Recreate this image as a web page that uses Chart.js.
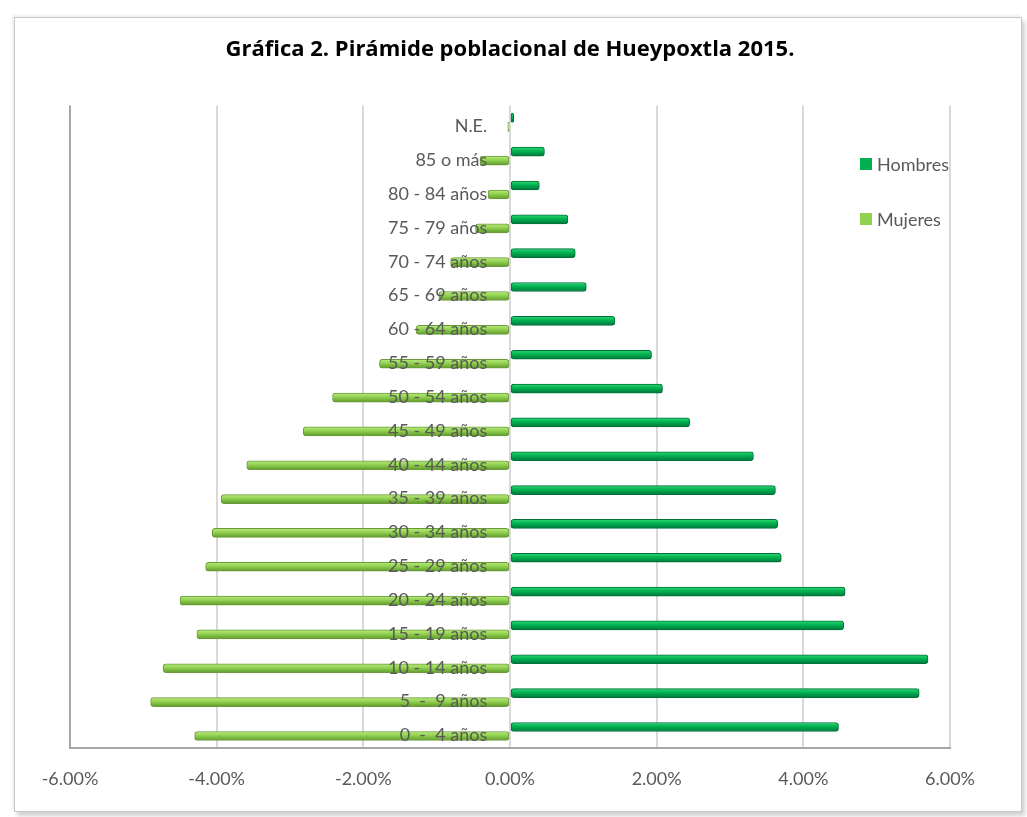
<!DOCTYPE html>
<html lang="es">
<head>
<meta charset="utf-8">
<title>Pirámide poblacional de Hueypoxtla 2015</title>
<script src="https://cdn.jsdelivr.net/npm/chart.js@4"></script>
<style>
  body { margin: 0; background: #fff; }
  #frame {
    position: absolute; left: 14px; top: 17px; width: 1006px; height: 793px;
    border: 1px solid #c8c8c8;
    box-shadow: 3px 4px 4px rgba(0,0,0,0.18), -2px -2px 2px rgba(0,0,0,0.06);
  }
  #wrap { position: absolute; left: 0; top: 0; width: 1027px; height: 817px; }
</style>
</head>
<body>
<div id="frame"></div>
<div id="wrap"><canvas id="piramide" width="1027" height="817"></canvas></div>
<script>
// grupos de edad (de abajo hacia arriba)
const grupos = [
  '0  -  4 años', '5  -  9 años', '10 - 14 años', '15 - 19 años', '20 - 24 años',
  '25 - 29 años', '30 - 34 años', '35 - 39 años', '40 - 44 años', '45 - 49 años',
  '50 - 54 años', '55 - 59 años', '60 - 64 años', '65 - 69 años', '70 - 74 años',
  '75 - 79 años', '80 - 84 años', '85 o más', 'N.E.'
];

// porcentaje de la población total
const hombres = [4.48, 5.58, 5.70, 4.55, 4.57, 3.70, 3.65, 3.62, 3.32, 2.45,
                 2.08, 1.93, 1.43, 1.04, 0.89, 0.79, 0.40, 0.47, 0.05];
const mujeres = [-4.30, -4.90, -4.73, -4.27, -4.50, -4.15, -4.06, -3.94, -3.59, -2.82,
                 -2.42, -1.78, -1.28, -0.97, -0.81, -0.47, -0.30, -0.41, -0.03];

const ticksX = [-6, -4, -2, 0, 2, 4, 6];

const gris = '#595959';
const fuente = 'Lato, "Open Sans", sans-serif';

// degradado tipo cilindro para cada barra
function cilindro(claro, medio, oscuro, desplazamiento) {
  return (ctx) => {
    const chart = ctx.chart;
    if (!chart.chartArea || ctx.type !== 'data') return medio;
    const y = chart.scales.y.getPixelForValue(ctx.dataIndex) + desplazamiento;
    const g = chart.ctx.createLinearGradient(0, y - 4.5, 0, y + 4.5);
    g.addColorStop(0, claro);
    g.addColorStop(0.45, medio);
    g.addColorStop(1, oscuro);
    return g;
  };
}

// leyenda dentro del área del gráfico, como en el original
const leyenda = {
  id: 'leyenda',
  afterDraw(chart) {
    const c = chart.ctx;
    c.save();
    c.font = '18px ' + fuente;
    c.textBaseline = 'middle';
    chart.data.datasets.forEach((ds, i) => {
      const y = 164 + i * 55;
      c.fillStyle = ds.legendColor;
      c.fillRect(860, y - 6, 12, 12);
      c.fillStyle = gris;
      c.fillText(ds.label, 877, y + 1);
    });
    c.restore();
  }
};

new Chart(document.getElementById('piramide'), {
  type: 'bar',
  data: {
    labels: grupos,
    datasets: [
      {
        label: 'Hombres',
        data: hombres,
        legendColor: '#00b050',
        backgroundColor: cilindro('#2ed872', '#00b050', '#00783a', -4.5),
        borderColor: '#00703a',
        borderWidth: 1,
        borderRadius: 3,
        borderSkipped: false,
        barThickness: 9
      },
      {
        label: 'Mujeres',
        data: mujeres,
        legendColor: '#92d050',
        backgroundColor: cilindro('#b8ec7e', '#92d050', '#5e9a2c', 4.5),
        borderColor: '#6b9a3a',
        borderWidth: 1,
        borderRadius: 3,
        borderSkipped: false,
        barThickness: 9
      }
    ]
  },
  options: {
    indexAxis: 'y',
    responsive: false,
    animation: false,
    layout: { padding: { top: 33, left: 70, right: 77, bottom: 7 } },
    plugins: {
      legend: { display: false },
      tooltip: { enabled: false },
      title: {
        display: true,
        text: 'Gráfica 2. Pirámide poblacional de Hueypoxtla 2015.',
        color: '#000',
        font: { family: '"Open Sans", Lato, sans-serif', size: 22, weight: 'bold' },
        padding: { top: 4, bottom: 42 }
      }
    },
    scales: {
      x: {
        min: -6,
        max: 6,
        afterBuildTicks: (scale) => { scale.ticks = ticksX.map(v => ({ value: v })); },
        ticks: {
          color: gris,
          padding: 20,
          font: { family: fuente, size: 18 },
          callback: (v) => v.toFixed(2) + '%'
        },
        grid: {
          drawTicks: false,
          lineWidth: 2,
          color: (ctx) => (ctx.tick && ctx.tick.value === -6) ? '#a6a6a6' : '#d9d9d9'
        },
        border: { display: true, color: '#a6a6a6', width: 2 }
      },
      y: {
        reverse: true,
        position: { x: -0.31 },
        grid: { display: false, drawTicks: false },
        border: { display: false },
        ticks: {
          z: 1,
          color: gris,
          labelOffset: 4,
          autoSkip: false,
          font: { family: fuente, size: 18 }
        }
      }
    }
  },
  plugins: [leyenda]
});
</script>
</body>
</html>
